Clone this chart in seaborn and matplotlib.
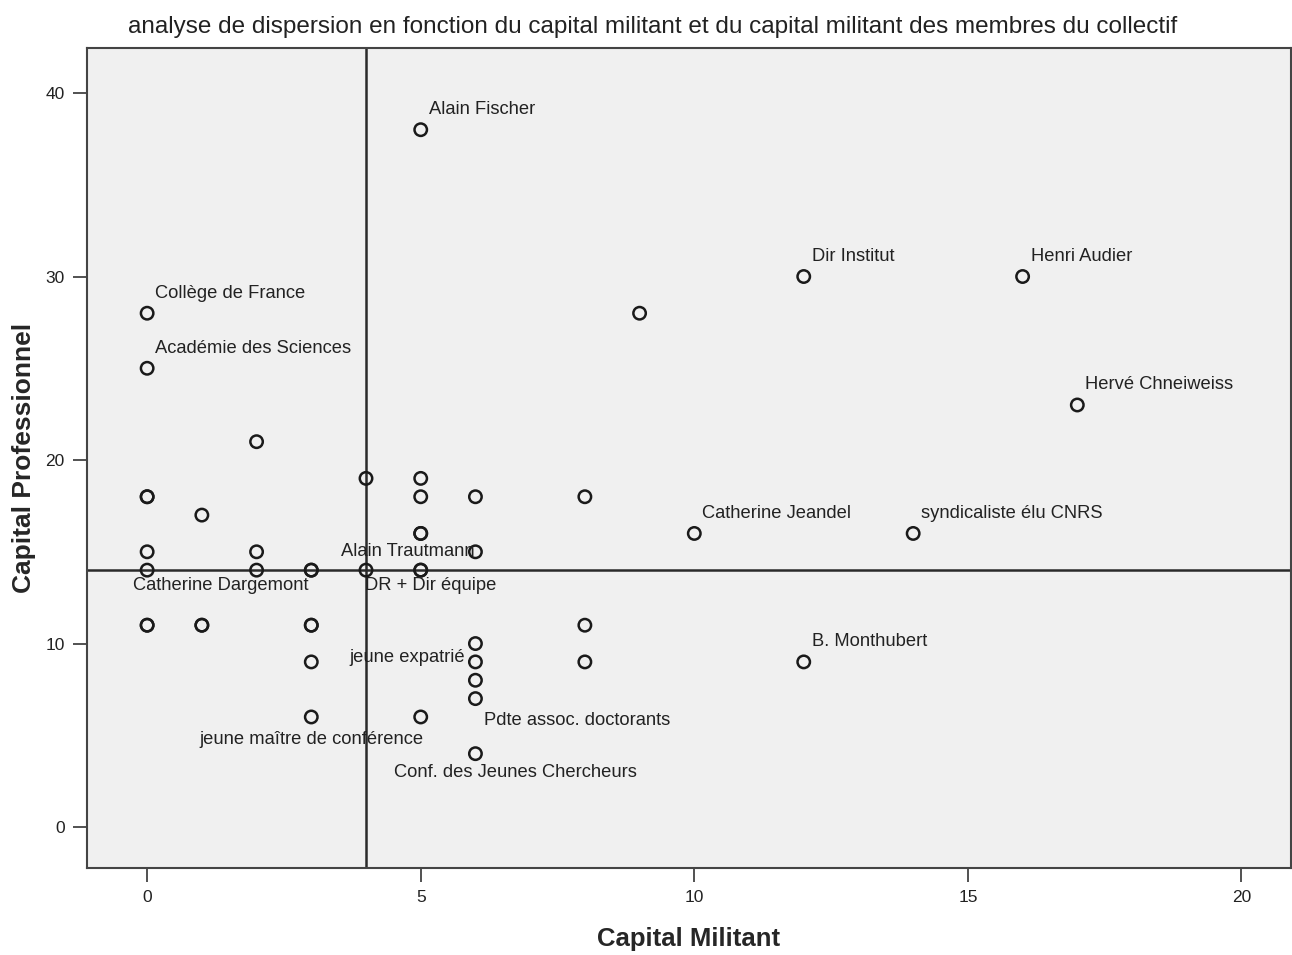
import matplotlib
matplotlib.use("Agg")
import matplotlib.pyplot as plt
import pandas as pd
import seaborn as sns

# ── Data (duplicates = overplotted points) ─────────────────────────────────
capital_militant = [5, 12, 16, 9, 0, 0, 17, 2, 4, 5, 0, 0, 5, 6, 8, 1,
                    5, 5, 10, 14, 0, 2, 6, 0, 2, 3, 3, 4, 5, 5,
                    0, 0, 1, 1, 3, 3, 6, 3, 6, 8, 8, 6, 6, 3, 5, 6, 12]
capital_pro = [38, 30, 30, 28, 28, 25, 23, 21, 19, 19, 18, 18, 18, 18, 18, 17,
               16, 16, 16, 16, 15, 15, 15, 14, 14, 14, 14, 14, 14, 14,
               11, 11, 11, 11, 11, 11, 10, 9, 9, 11, 9, 8, 7, 6, 6, 4, 9]

label_names = ["Alain Fischer", "Dir Institut", "Henri Audier", "Collège de France",
               "Académie des Sciences", "Hervé Chneiweiss", "Catherine Jeandel",
               "syndicaliste élu CNRS", "B. Monthubert", "Alain Trautmann",
               "Catherine Dargemont", "DR + Dir équipe", "jeune expatrié",
               "jeune maître de conférence", "Pdte assoc. doctorants",
               "Conf. des Jeunes Chercheurs"]
label_x = [5, 12, 16, 0, 0, 17, 10, 14, 12, 6, 0, 4, 6, 3, 6, 6]
label_y = [38, 30, 30, 28, 25, 23, 16, 16, 9, 15, 14, 14, 9, 6, 7, 4]

ref_x = 4
ref_y = 14

# label placement (pixel offsets from the point, horizontal alignment)
label_offsets = [(8, 20, "left")] * 9 + [
    (-1, 0, "right"), (74, -15, "center"), (-1, -15, "left"),
    (-10, 4, "right"), (0, -23, "center"), (9, -22, "left"), (40, -19, "center")]

df = pd.DataFrame({"Capital Militant": capital_militant,
                   "Capital Professionnel": capital_pro})

sns.set_style("white")
plt.rcParams["font.family"] = ["Liberation Sans", "DejaVu Sans"]

fig = plt.figure(figsize=(12.92, 9.55), dpi=100)
ax = fig.add_axes([0.0673, 0.0911, 0.9317, 0.8586])
ax.set_facecolor("#f0f0f0")

sns.scatterplot(data=df, x="Capital Militant", y="Capital Professionnel", ax=ax,
                marker="o", s=80, facecolor="none", edgecolor="#1a1a1a",
                linewidth=1.8, zorder=3)

ax.axvline(ref_x, color="#2a2a2a", lw=1.8, zorder=2)
ax.axhline(ref_y, color="#2a2a2a", lw=1.8, zorder=2)

for name, lx, ly, (dx, dy, ha) in zip(label_names, label_x, label_y, label_offsets):
    ax.annotate(name, (lx, ly), xytext=(dx, dy), textcoords="offset pixels",
                ha=ha, va="center", fontsize=13.2, color="#222222", zorder=4)

ax.set_xlim(-1.1, 20.9)
ax.set_ylim(-2.23, 42.45)
ax.set_xticks([0, 5, 10, 15, 20])
ax.set_yticks([0, 10, 20, 30, 40])
ax.tick_params(axis="both", direction="out", length=10, width=1.2,
               color="#333333", labelsize=12.5, labelcolor="#222222", pad=6,
               bottom=True, left=True)
for side in ["top", "right", "bottom", "left"]:
    ax.spines[side].set_color("#444444")
    ax.spines[side].set_linewidth(1.5)

ax.set_xlabel("Capital Militant", fontsize=18.5, fontweight="bold", labelpad=16)
ax.set_ylabel("Capital Professionnel", fontsize=19, fontweight="bold", labelpad=7)

# title sits slightly left of the axes centre in the original
fig.text(0.505, 0.972, "analyse de dispersion en fonction du capital militant et du "
         "capital militant des membres du collectif", fontsize=17.5,
         color="#222222", ha="center", va="center")

fig.savefig("out.png", dpi=100)
